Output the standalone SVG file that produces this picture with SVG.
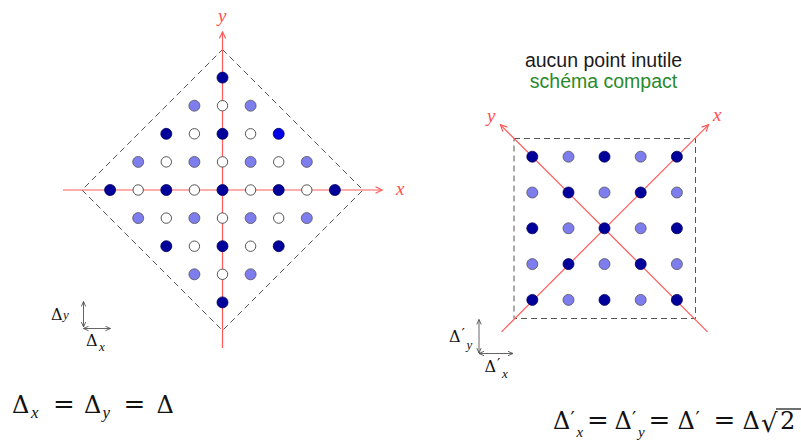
<svg xmlns="http://www.w3.org/2000/svg" width="801" height="442" viewBox="0 0 801 442">
<defs>
<style>
.ax{stroke:#ff5a5a;stroke-width:1.2;fill:none}
.dash{stroke:#555;stroke-width:1;fill:none;stroke-dasharray:6 4}
.D{fill:#00009a;stroke:#00005a;stroke-width:0.8}
.B{fill:#0000e6;stroke:#00005a;stroke-width:0.8}
.L{fill:#7d7dee;stroke:#555;stroke-width:0.8}
.W{fill:#fff;stroke:#555;stroke-width:1}
.lab{font-family:"Liberation Serif","DejaVu Serif",serif;font-style:italic;fill:#ff4d4d;font-size:19px}
.m{font-family:"DejaVu Serif","Liberation Serif",serif;fill:#111}
.it{font-family:"Liberation Serif","DejaVu Serif",serif;font-style:italic}
.leg{stroke:#555;stroke-width:0.9;fill:none}
</style>
<marker id="arrR" viewBox="0 0 8 8" refX="7" refY="4" markerWidth="8" markerHeight="8" markerUnits="userSpaceOnUse" orient="auto-start-reverse">
<path d="M0.5,0.8 L7,4 L0.5,7.2" fill="none" stroke="#ff5a5a" stroke-width="1.2"/>
</marker>
<marker id="arrS" viewBox="0 0 6 6" refX="5.5" refY="3" markerWidth="6" markerHeight="6" markerUnits="userSpaceOnUse" orient="auto-start-reverse">
<path d="M0.5,0.8 L5.5,3 L0.5,5.2" fill="none" stroke="#555" stroke-width="0.9"/>
</marker>
</defs>
<rect width="801" height="442" fill="#fff"/>

<g id="left-diagram">
<g id="left-connectors">
<polygon class="dash" points="222.5,49.5 363,190 222.5,330.5 82,190"/>
<line class="ax" x1="63" y1="190" x2="382" y2="190" marker-end="url(#arrR)"/>
<line class="ax" x1="222.5" y1="348" x2="222.5" y2="32" marker-end="url(#arrR)"/>
</g>
<text class="lab" x="396" y="195">x</text>
<text class="lab" x="218" y="22">y</text>
<g id="left-points">
<circle class="D" cx="222.5" cy="77.6" r="5.5"/>
<circle class="L" cx="194.4" cy="105.7" r="5.5"/><circle class="W" cx="222.5" cy="105.7" r="5.2"/><circle class="L" cx="250.6" cy="105.7" r="5.5"/>
<circle class="D" cx="166.3" cy="133.8" r="5.5"/><circle class="W" cx="194.4" cy="133.8" r="5.2"/><circle class="D" cx="222.5" cy="133.8" r="5.5"/><circle class="W" cx="250.6" cy="133.8" r="5.2"/><circle class="B" cx="278.7" cy="133.8" r="5.5"/>
<circle class="L" cx="138.2" cy="161.9" r="5.5"/><circle class="W" cx="166.3" cy="161.9" r="5.2"/><circle class="L" cx="194.4" cy="161.9" r="5.5"/><circle class="W" cx="222.5" cy="161.9" r="5.2"/><circle class="L" cx="250.6" cy="161.9" r="5.5"/><circle class="W" cx="278.7" cy="161.9" r="5.2"/><circle class="L" cx="306.8" cy="161.9" r="5.5"/>
<circle class="D" cx="110.1" cy="190" r="5.5"/><circle class="W" cx="138.2" cy="190" r="5.2"/><circle class="D" cx="166.3" cy="190" r="5.5"/><circle class="W" cx="194.4" cy="190" r="5.2"/><circle class="D" cx="222.5" cy="190" r="5.5"/><circle class="W" cx="250.6" cy="190" r="5.2"/><circle class="D" cx="278.7" cy="190" r="5.5"/><circle class="W" cx="306.8" cy="190" r="5.2"/><circle class="D" cx="334.9" cy="190" r="5.5"/>
<circle class="L" cx="138.2" cy="218.1" r="5.5"/><circle class="W" cx="166.3" cy="218.1" r="5.2"/><circle class="L" cx="194.4" cy="218.1" r="5.5"/><circle class="W" cx="222.5" cy="218.1" r="5.2"/><circle class="L" cx="250.6" cy="218.1" r="5.5"/><circle class="W" cx="278.7" cy="218.1" r="5.2"/><circle class="L" cx="306.8" cy="218.1" r="5.5"/>
<circle class="D" cx="166.3" cy="246.2" r="5.5"/><circle class="W" cx="194.4" cy="246.2" r="5.2"/><circle class="D" cx="222.5" cy="246.2" r="5.5"/><circle class="W" cx="250.6" cy="246.2" r="5.2"/><circle class="D" cx="278.7" cy="246.2" r="5.5"/>
<circle class="L" cx="194.4" cy="274.3" r="5.5"/><circle class="W" cx="222.5" cy="274.3" r="5.2"/><circle class="L" cx="250.6" cy="274.3" r="5.5"/>
<circle class="D" cx="222.5" cy="302.4" r="5.5"/>
</g>
<g id="left-legend">
<line class="leg" x1="83.5" y1="327" x2="83.5" y2="301.5" marker-start="url(#arrS)" marker-end="url(#arrS)"/>
<line class="leg" x1="83.5" y1="328.5" x2="110.5" y2="328.5" marker-start="url(#arrS)" marker-end="url(#arrS)"/>
<text class="m" font-size="16" x="51" y="319.5">Δ<tspan class="it" font-size="13" x="63" y="319">y</tspan></text>
<text class="m" font-size="16" x="86" y="346">Δ<tspan class="it" font-size="13" x="99" y="351">x</tspan></text>
</g>
<text class="m" font-size="24" y="413"><tspan x="12">Δ</tspan><tspan class="it" font-size="17" x="31" y="418">x</tspan><tspan font-size="26" x="53" y="413">=</tspan><tspan x="84" y="413">Δ</tspan><tspan class="it" font-size="17" x="102.5" y="418">y</tspan><tspan font-size="26" x="123.5" y="413">=</tspan><tspan x="156.5" y="413">Δ</tspan></text>
</g>

<g id="right-diagram">
<text x="603.5" y="67" text-anchor="middle" font-family="Liberation Sans, Arial, sans-serif" font-size="19.5" fill="#1a1a1a">aucun point inutile</text>
<text x="603.5" y="88" text-anchor="middle" font-family="Liberation Sans, Arial, sans-serif" font-size="19.5" fill="#2a8a2a">schéma compact</text>
<g id="right-connectors">
<rect class="dash" x="514" y="138.5" width="181.5" height="180"/>
<line class="ax" x1="501.5" y1="331.8" x2="708.5" y2="124.8" marker-end="url(#arrR)"/>
<line class="ax" x1="707.5" y1="331.8" x2="500.5" y2="124.8" marker-end="url(#arrR)"/>
</g>
<text class="lab" x="713" y="121">x</text>
<text class="lab" x="487" y="122">y</text>
<g id="right-points">
<circle class="D" cx="532.3" cy="156.7" r="5.5"/><circle class="L" cx="568.5" cy="156.7" r="5.5"/><circle class="D" cx="604.5" cy="156.7" r="5.5"/><circle class="L" cx="640.7" cy="156.7" r="5.5"/><circle class="D" cx="676.9" cy="156.7" r="5.5"/>
<circle class="L" cx="532.3" cy="192.5" r="5.5"/><circle class="D" cx="568.5" cy="192.5" r="5.5"/><circle class="L" cx="604.5" cy="192.5" r="5.5"/><circle class="D" cx="640.7" cy="192.5" r="5.5"/><circle class="L" cx="676.9" cy="192.5" r="5.5"/>
<circle class="D" cx="532.3" cy="228.3" r="5.5"/><circle class="L" cx="568.5" cy="228.3" r="5.5"/><circle class="D" cx="604.5" cy="228.3" r="5.5"/><circle class="L" cx="640.7" cy="228.3" r="5.5"/><circle class="D" cx="676.9" cy="228.3" r="5.5"/>
<circle class="L" cx="532.3" cy="264.1" r="5.5"/><circle class="D" cx="568.5" cy="264.1" r="5.5"/><circle class="L" cx="604.5" cy="264.1" r="5.5"/><circle class="D" cx="640.7" cy="264.1" r="5.5"/><circle class="L" cx="676.9" cy="264.1" r="5.5"/>
<circle class="D" cx="532.3" cy="299.9" r="5.5"/><circle class="L" cx="568.5" cy="299.9" r="5.5"/><circle class="D" cx="604.5" cy="299.9" r="5.5"/><circle class="L" cx="640.7" cy="299.9" r="5.5"/><circle class="D" cx="676.9" cy="299.9" r="5.5"/>
</g>
<g id="right-legend">
<line class="leg" x1="479" y1="353" x2="479" y2="319.5" marker-start="url(#arrS)" marker-end="url(#arrS)"/>
<line class="leg" x1="479" y1="353.5" x2="513" y2="353.5" marker-start="url(#arrS)" marker-end="url(#arrS)"/>
<text class="m" font-size="16" x="449" y="342">Δ<tspan font-size="15" x="461.5" y="339">′</tspan><tspan class="it" font-size="13" x="466.5" y="349">y</tspan></text>
<text class="m" font-size="16" x="484.5" y="372">Δ<tspan font-size="15" x="497" y="369">′</tspan><tspan class="it" font-size="13" x="502" y="378">x</tspan></text>
</g>
<text class="m" font-size="24" y="429"><tspan x="553">Δ</tspan><tspan font-size="19" x="570.5" y="425">′</tspan><tspan class="it" font-size="15" x="576.5" y="437">x</tspan><tspan font-size="26" x="587" y="429">=</tspan><tspan x="614.5" y="429">Δ</tspan><tspan font-size="19" x="632" y="425">′</tspan><tspan class="it" font-size="15" x="638" y="437">y</tspan><tspan font-size="26" x="648.5" y="429">=</tspan><tspan x="677.5" y="429">Δ</tspan><tspan font-size="19" x="695.5" y="425">′</tspan><tspan font-size="26" x="713.5" y="429">=</tspan><tspan x="742.5" y="429">Δ</tspan><tspan font-size="26" x="761" y="432">√</tspan><tspan x="780" y="429">2</tspan></text>
<line x1="776" y1="409" x2="801" y2="409" stroke="#111" stroke-width="1.2"/>
</g>
</svg>
